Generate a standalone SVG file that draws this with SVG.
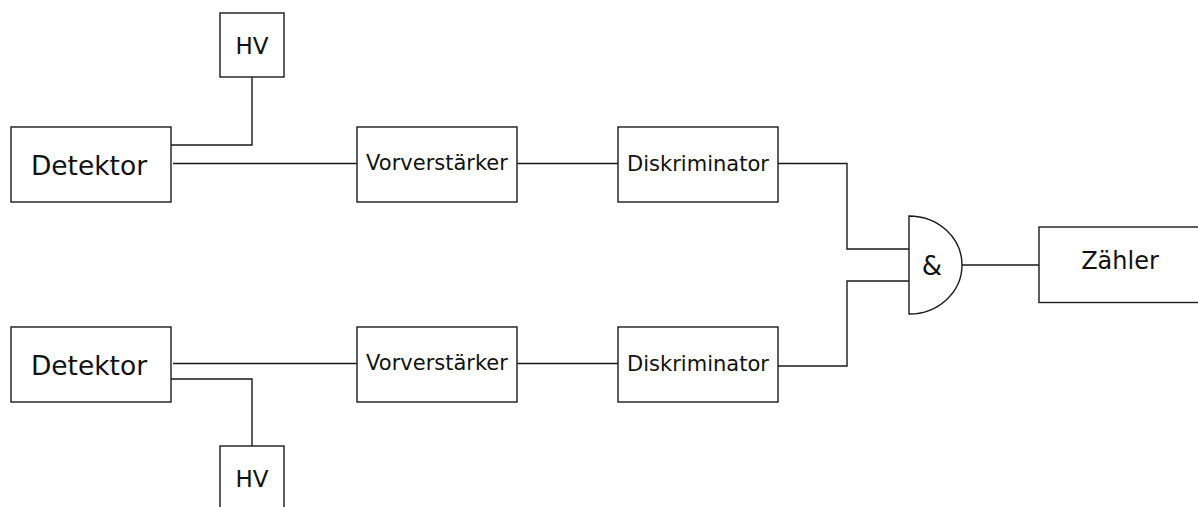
<svg xmlns="http://www.w3.org/2000/svg" width="1198" height="507" viewBox="0 0 1198 507">
<style>
.box{fill:#fff;stroke:#1a1a1a;stroke-width:1.4}
.ln{fill:none;stroke:#1a1a1a;stroke-width:1.4}
text{font-family:"DejaVu Sans",sans-serif;fill:#111;text-anchor:middle}
</style>
<rect width="1198" height="507" fill="#fff"/>
<g id="connectors">
<path class="ln" d="M171,145 H252 V77"/>
<path class="ln" d="M173,163.5 H357"/>
<path class="ln" d="M517,163.5 H618"/>
<path class="ln" d="M778,163.5 H847 V249 H909"/>
<path class="ln" d="M171,379 H252 V446"/>
<path class="ln" d="M173,363.5 H357"/>
<path class="ln" d="M517,363.5 H618"/>
<path class="ln" d="M778,366 H847 V281 H909"/>
<path class="ln" d="M962,265 H1039"/>
</g>
<g id="hv-top"><rect class="box" x="220" y="13" width="64" height="64"/><text x="252" y="54" font-size="23">HV</text></g>
<g id="detektor-top"><rect class="box" x="11" y="127" width="160" height="75"/><text x="89" y="175" font-size="26.5">Detektor</text></g>
<g id="vorverstaerker-top"><rect class="box" x="357" y="127" width="160" height="75"/><text x="437" y="169.5" font-size="21">Vorverstärker</text></g>
<g id="diskriminator-top"><rect class="box" x="618" y="127" width="160" height="75"/><text x="698" y="171" font-size="21">Diskriminator</text></g>
<g id="detektor-bottom"><rect class="box" x="11" y="327" width="160" height="75"/><text x="89" y="375" font-size="26.5">Detektor</text></g>
<g id="vorverstaerker-bottom"><rect class="box" x="357" y="327" width="160" height="75"/><text x="437" y="369.5" font-size="21">Vorverstärker</text></g>
<g id="diskriminator-bottom"><rect class="box" x="618" y="327" width="160" height="75"/><text x="698" y="371" font-size="21">Diskriminator</text></g>
<g id="hv-bottom"><rect class="box" x="220" y="446" width="64" height="64"/><text x="252" y="487" font-size="23">HV</text></g>
<g id="and-gate"><path class="box" d="M909,216 A53,49 0 0 1 909,314 Z"/><text x="932" y="275" font-size="26">&amp;</text></g>
<g id="zaehler"><rect class="box" x="1039" y="227" width="160" height="75.5"/><text x="1120" y="269" font-size="24">Zähler</text></g>
</svg>
